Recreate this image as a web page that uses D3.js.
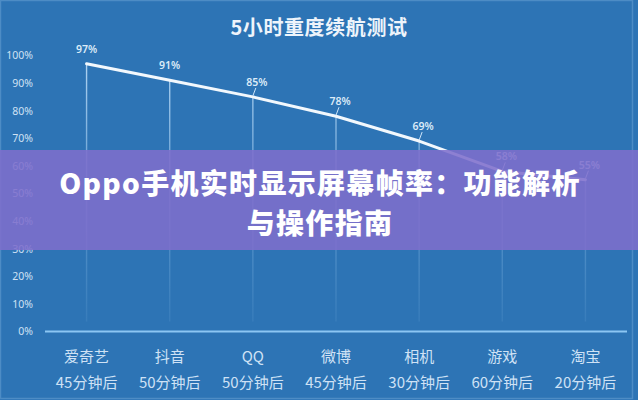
<!DOCTYPE html>
<html>
<head>
<meta charset="utf-8">
<script src="https://cdn.jsdelivr.net/npm/d3@7/dist/d3.min.js"></script>
<style>
  html, body { margin: 0; padding: 0; background: #2d74b5; }
  svg { display: block; }
  text { font-family: "Noto Sans CJK SC", "Noto Sans", sans-serif; }
</style>
</head>
<body>
<svg id="chart" width="638" height="400"></svg>
<script>
// Battery remaining after a 5-hour heavy-use run, per app
const categories = ["爱奇艺", "抖音", "QQ", "微博", "相机", "游戏", "淘宝"];
const durations = ["45分钟后", "50分钟后", "50分钟后", "45分钟后", "30分钟后", "60分钟后", "20分钟后"];
const batteryLevels = [97, 91, 85, 78, 69, 58, 55];
const yTicks = [0, 10, 20, 30, 40, 50, 60, 70, 80, 90, 100];

const chartTitle = "5小时重度续航测试";
const bannerLines = ["Oppo手机实时显示屏幕帧率：功能解析", "与操作指南"];

const W = 638, H = 400;
const svg = d3.select("#chart");

// background panel with a faint frame
svg.append("rect").attr("width", W).attr("height", H).attr("fill", "#2d74b5");
svg.append("rect")
  .attr("x", 0.5).attr("y", 0.5).attr("width", 632).attr("height", 398)
  .attr("fill", "none").attr("stroke", "rgba(160,205,240,0.28)").attr("stroke-width", 1.5);

const x = d3.scaleBand().domain(categories).range([45, 627]);
const cx = d => x(d) + x.bandwidth() / 2;
const y = d3.scaleLinear().domain([0, 100]).range([331.5, 55.5]);

// title
svg.append("text")
  .attr("x", 319).attr("y", 26)
  .attr("text-anchor", "middle").attr("dominant-baseline", "central")
  .attr("fill", "#eef4fb").attr("font-size", 20).attr("font-weight", 600)
  .attr("letter-spacing", 0.6)
  .text(chartTitle);

// y axis labels
const yAxis = d3.axisLeft(y).tickValues(yTicks).tickSize(0).tickPadding(3)
  .tickFormat(d => d + "%");
const gy = svg.append("g").attr("transform", "translate(36,0)").call(yAxis);
gy.select(".domain").remove();
gy.selectAll("text")
  .attr("fill", "#cfe1f4").attr("font-size", 10.5)
  .style("font-family", "'Noto Sans', sans-serif");

// fading drop lines from each point to the base
const defs = svg.append("defs");
const grad = defs.append("linearGradient")
  .attr("id", "dropFade").attr("gradientUnits", "userSpaceOnUse")
  .attr("x1", 0).attr("x2", 0).attr("y1", y(100)).attr("y2", y(0));
grad.append("stop").attr("offset", 0).attr("stop-color", "#c4e2fb").attr("stop-opacity", 0.9);
grad.append("stop").attr("offset", 0.55).attr("stop-color", "#a9d2f5").attr("stop-opacity", 0.35);
grad.append("stop").attr("offset", 1).attr("stop-color", "#9ccbf2").attr("stop-opacity", 0.08);

svg.append("g").selectAll("line")
  .data(categories)
  .join("line")
  .attr("x1", d => cx(d)).attr("x2", d => cx(d))
  .attr("y1", (d, i) => y(batteryLevels[i]))
  .attr("y2", y(0) - 10)
  .attr("stroke", "url(#dropFade)").attr("stroke-width", 1.4);

// base line
svg.append("line")
  .attr("x1", x.range()[0]).attr("x2", x.range()[1])
  .attr("y1", y(0)).attr("y2", y(0))
  .attr("stroke", "#8cc6f3").attr("stroke-width", 2);

// battery curve
const line = d3.line().x((d, i) => cx(categories[i])).y(d => y(d));
svg.append("path")
  .datum(batteryLevels)
  .attr("d", line)
  .attr("fill", "none")
  .attr("stroke", "#f2f8fd").attr("stroke-width", 3)
  .attr("stroke-linecap", "round").attr("stroke-linejoin", "round");

// value labels with short leaders
const labelGap = 15;
const lbl = svg.append("g").selectAll("g")
  .data(batteryLevels)
  .join("g");
lbl.filter((d, i) => i >= 2).append("line")
  .attr("x1", (d, i) => cx(categories[i + 2]) + 3)
  .attr("x2", (d, i) => cx(categories[i + 2]))
  .attr("y1", d => y(d) - labelGap + 6)
  .attr("y2", d => y(d) - 1)
  .attr("stroke", "#cfe6fa").attr("stroke-width", 1);
lbl.append("text")
  .attr("x", (d, i) => cx(categories[i]) + (i >= 2 ? 4 : 0))
  .attr("y", d => y(d) - labelGap)
  .attr("text-anchor", "middle").attr("dominant-baseline", "central")
  .attr("fill", "#dcebf8").attr("font-size", 10.5).attr("font-weight", 600)
  .style("font-family", "'Noto Sans', sans-serif")
  .text(d => d + "%");

// category axis: app name and elapsed time
const xAxis = d3.axisBottom(x).tickSize(0).tickPadding(0);
const gx = svg.append("g").attr("transform", `translate(0,${y(0)})`).call(xAxis);
gx.select(".domain").remove();
gx.selectAll("text").each(function (d, i) {
  const t = d3.select(this).text(null)
    .attr("fill", "#cfe2f5").attr("y", 0).attr("dy", null)
    .attr("font-size", 15)
    .style("font-family", "'Noto Sans CJK SC', sans-serif");
  t.append("tspan").attr("x", 0).attr("y", 24).attr("dominant-baseline", "central").text(d);
  t.append("tspan").attr("x", 0).attr("y", 50).attr("dominant-baseline", "central")
    .text(durations[categories.indexOf(d)]);
});

// translucent purple banner across the middle
svg.append("rect")
  .attr("x", 0).attr("y", 150).attr("width", W).attr("height", 100)
  .attr("fill", "rgb(126,110,204)").attr("fill-opacity", 0.88);
svg.append("g").selectAll("text")
  .data(bannerLines)
  .join("text")
  .attr("x", 320)
  .attr("y", (d, i) => 182 + i * 40)
  .attr("text-anchor", "middle").attr("dominant-baseline", "central")
  .attr("fill", "#ffffff").attr("font-size", 28).attr("font-weight", 900)
  .attr("letter-spacing", 1.3)
  .style("font-family", "'Noto Sans CJK SC', 'Noto Sans', sans-serif")
  .text(d => d);
</script>
</body>
</html>
